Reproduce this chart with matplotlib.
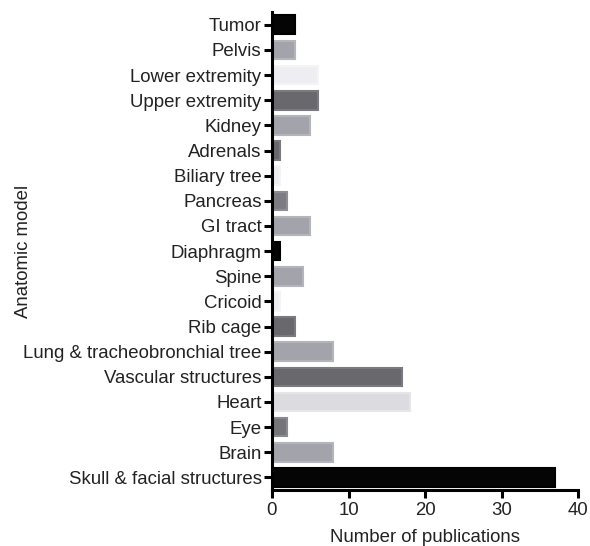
import matplotlib.pyplot as plt

# Data (bottom to top)
models = ['Skull & facial structures', 'Brain', 'Eye', 'Heart', 'Vascular structures',
          'Lung & tracheobronchial tree', 'Rib cage', 'Cricoid', 'Spine', 'Diaphragm',
          'GI tract', 'Pancreas', 'Biliary tree', 'Adrenals', 'Kidney',
          'Upper extremity', 'Lower extremity', 'Pelvis', 'Tumor']
publications = [37, 8, 2, 18, 17, 8, 3, 1, 4, 1, 5, 2, 1, 1, 5, 6, 6, 3, 3]
fills = ['#050505', '#a3a3ab', '#747479', '#dcdce0', '#68686d',
         '#a3a3ab', '#68686d', '#eeeef2', '#a3a3ab', '#050505',
         '#a3a3ab', '#7c7c82', '#eeeef2', '#68686d', '#a3a3ab',
         '#68686d', '#eeeef2', '#a3a3ab', '#050505']
edges = ['#000000', '#b4b4bb', '#8a8a90', '#e6e6ea', '#7a7a80',
         '#b4b4bb', '#7a7a80', '#f4f4f7', '#b4b4bb', '#000000',
         '#b4b4bb', '#8e8e94', '#f4f4f7', '#7a7a80', '#b4b4bb',
         '#7a7a80', '#f4f4f7', '#b4b4bb', '#000000']

plt.rcParams['font.family'] = ['Liberation Sans', 'DejaVu Sans']

fig = plt.figure(figsize=(5.9, 5.46), dpi=100)
ax = fig.add_axes([0.461, 0.1026, 0.519, 0.875])

ax.barh(range(len(models)), publications, height=0.74, color=fills,
        edgecolor=edges, linewidth=1.5)

ax.set_xlim(0, 40)
ax.set_ylim(-0.5, 18.5)
ax.set_xticks([0, 10, 20, 30, 40])
ax.set_yticks(range(len(models)))
ax.set_yticklabels(models)

for s in ['top', 'right']:
    ax.spines[s].set_visible(False)
for s in ['left', 'bottom']:
    ax.spines[s].set_linewidth(2.2)
ax.tick_params(axis='both', direction='out', length=5.5, width=2.2,
               labelsize=13.4, colors='black', labelcolor='#222222')
ax.tick_params(axis='y', pad=2)
ax.tick_params(axis='x', pad=3)

ax.set_xlabel('Number of publications', fontsize=13.4, color='#222222', labelpad=7)
ax.set_ylabel('Anatomic model', fontsize=13.4, color='#222222', labelpad=6)
ax.yaxis.set_label_coords(-0.785, 0.5)

fig.savefig('out.png', dpi=100)
